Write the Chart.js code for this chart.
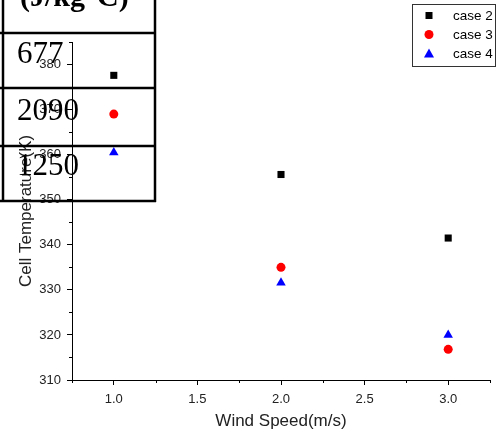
<!DOCTYPE html>
<html><head><meta charset="utf-8">
<script src="https://cdn.jsdelivr.net/npm/chart.js@4"></script>
<style>
html,body{margin:0;padding:0;background:#fff;}
#wrap{position:relative;width:504px;height:436px;overflow:hidden;}
canvas{position:absolute;left:0;top:0;}
svg{position:absolute;left:0;top:0;pointer-events:none;}
</style></head><body>
<div id="wrap"><canvas id="c" width="504" height="436"></canvas>
<svg id="ov" width="504" height="436" xmlns="http://www.w3.org/2000/svg"></svg></div>
<script>
const windSpeed = [1.0, 2.0, 3.0];
const case2 = [377.6, 355.6, 341.5];
const case3 = [369.0, 335.0, 316.8];
const case4 = [360.5, 331.6, 320.0];
const seriesNames = ['case 2', 'case 3', 'case 4'];
const xTickLabels = ['1.0', '1.5', '2.0', '2.5', '3.0'];
const yTickLabels = ['310', '320', '330', '340', '350', '360', '370', '380'];
const xTitle = 'Wind Speed(m/s)';
const yTitle = 'Cell Temperature(K)';
const tableUnit = '(J/kg°C)';
const tableValues = ['677', '2090', '1250'];

const FONT = 'Arial, "Liberation Sans", sans-serif';
const isMajorX = v => Math.abs(v * 2 - Math.round(v * 2)) < 1e-6;
const isMajorY = v => Math.abs(v / 10 - Math.round(v / 10)) < 1e-6;

const styles = [
  {color: '#000000', pointStyle: 'rect', radius: 5},
  {color: '#ff0000', pointStyle: 'circle', radius: 4.5},
  {color: '#0000ff', pointStyle: 'triangle', radius: 5.5}
];
const allSeries = [case2, case3, case4];

const datasets = allSeries.map((s, i) => ({
  label: seriesNames[i],
  data: windSpeed.map((x, j) => ({x: x, y: s[j]})),
  backgroundColor: styles[i].color,
  borderColor: styles[i].color,
  borderWidth: 0,
  pointStyle: styles[i].pointStyle,
  pointRadius: styles[i].radius,
  showLine: false
}));

const minorTicks = {
  id: 'minorTicks',
  afterDraw(chart) {
    const ctx = chart.ctx, xs = chart.scales.x, ys = chart.scales.y;
    ctx.save();
    ctx.strokeStyle = '#000';
    ctx.lineWidth = 1;
    xs.ticks.forEach(t => {
      if (!isMajorX(t.value)) {
        const px = Math.round(xs.getPixelForValue(t.value)) + 0.5;
        ctx.beginPath(); ctx.moveTo(px, ys.bottom); ctx.lineTo(px, ys.bottom + 3); ctx.stroke();
      }
    });
    ys.ticks.forEach(t => {
      if (!isMajorY(t.value)) {
        const py = Math.round(ys.getPixelForValue(t.value)) + 0.5;
        ctx.beginPath(); ctx.moveTo(xs.left, py); ctx.lineTo(xs.left - 3, py); ctx.stroke();
      }
    });
    ctx.restore();
  }
};

new Chart(document.getElementById('c'), {
  type: 'scatter',
  data: {datasets},
  plugins: [minorTicks],
  options: {
    responsive: false,
    animation: false,
    layout: {padding: {top: 42, right: 14, left: 0, bottom: 0}},
    plugins: {legend: {display: false}, tooltip: {enabled: false}},
    scales: {
      x: {
        type: 'linear', min: 0.75, max: 3.25,
        ticks: {
          stepSize: 0.25, autoSkip: false, maxRotation: 0, padding: 7, color: '#222',
          font: {family: FONT, size: 13},
          callback: v => isMajorX(v) ? xTickLabels[Math.round((v - 1) / 0.5)] : ''
        },
        grid: {drawOnChartArea: false, tickLength: 5, tickWidth: 1,
          tickColor: c => (c.tick && isMajorX(c.tick.value)) ? '#000' : 'rgba(0,0,0,0)'},
        border: {color: '#000', width: 1},
        title: {display: true, text: xTitle, color: '#222', font: {family: FONT, size: 17}, padding: {top: 0, bottom: 4}},
        afterFit: s => { s.height = 56; }
      },
      y: {
        type: 'linear', min: 310, max: 385,
        ticks: {
          stepSize: 5, autoSkip: false, padding: 6, color: '#222',
          font: {family: FONT, size: 13},
          callback: v => isMajorY(v) ? yTickLabels[Math.round((v - 310) / 10)] : ''
        },
        grid: {drawOnChartArea: false, tickLength: 5, tickWidth: 1,
          tickColor: c => (c.tick && isMajorY(c.tick.value)) ? '#000' : 'rgba(0,0,0,0)'},
        border: {color: '#000', width: 1},
        title: {display: true, text: yTitle, color: '#222', font: {family: FONT, size: 17}, padding: {top: 16, bottom: 0}},
        afterFit: s => { s.width = 72; }
      }
    }
  }
});

// Overlay: legend and table fragment
const NS = 'http://www.w3.org/2000/svg';
const ov = document.getElementById('ov');
function el(tag, attrs, text) {
  const e = document.createElementNS(NS, tag);
  for (const k in attrs) e.setAttribute(k, attrs[k]);
  if (text !== undefined) e.textContent = text;
  ov.appendChild(e);
  return e;
}
// legend
el('rect', {x: 412.5, y: 4.5, width: 83, height: 62, fill: '#fff', stroke: '#333', 'stroke-width': 1});
const rowY = [15.5, 34.5, 53.5];
seriesNames.forEach((n, i) => {
  const cy = rowY[i], cx = 429;
  if (i === 0) el('rect', {x: cx - 3.5, y: cy - 3.5, width: 7, height: 7, fill: styles[0].color});
  if (i === 1) el('circle', {cx: cx, cy: cy, r: 4.5, fill: styles[1].color});
  if (i === 2) el('polygon', {points: `${cx},${cy - 5} ${cx + 5},${cy + 4} ${cx - 5},${cy + 4}`, fill: styles[2].color});
  el('text', {x: 453, y: cy + 4.5, 'font-family': FONT, 'font-size': 13.5, fill: '#000'}, n);
});
// table fragment
const hLines = [33, 88, 146, 201];
hLines.forEach(y => el('line', {x1: 0, y1: y, x2: 156, y2: y, stroke: '#000', 'stroke-width': 2.5}));
el('line', {x1: 3, y1: 0, x2: 3, y2: 202, stroke: '#000', 'stroke-width': 2.5});
el('line', {x1: 155, y1: 0, x2: 155, y2: 202, stroke: '#000', 'stroke-width': 2.5});
el('text', {x: 20, y: 6, 'font-family': '"Liberation Serif", "Times New Roman", serif', 'font-size': 30, 'font-weight': 'bold', fill: '#000'}, tableUnit);
const baseY = [63, 120, 175];
tableValues.forEach((v, i) => {
  el('text', {x: 17, y: baseY[i], 'font-family': '"Liberation Serif", "Times New Roman", serif', 'font-size': 31, fill: '#000'}, v);
});
</script>
</body></html>
